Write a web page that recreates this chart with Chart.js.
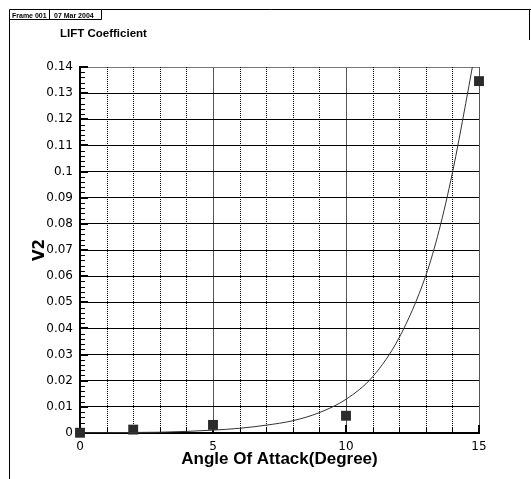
<!DOCTYPE html>
<html lang="en">
<head>
  <meta charset="UTF-8">
  <title>LIFT Coefficient</title>
  <script src="https://cdn.jsdelivr.net/npm/chart.js"></script>
  <style>
    html, body {
      margin: 0;
      padding: 0;
      background: #ffffff;
    }

    #wrap {
      width: 531px;
      height: 479px;
    }
  </style>
</head>
<body>
  <div id="wrap"><canvas id="chart" width="531" height="479"></canvas></div>

  <script>
    // measured points (square markers)
    const angles = [0, 2, 5, 10, 15];
    const liftValues = [0.0001, 0.0013, 0.0031, 0.0066, 0.1346];

    // fitted curve
    const fitAngles = [0, 1, 2, 3, 4, 5, 6, 7, 8, 9, 10, 11, 12, 13, 13.5, 14, 14.5, 14.75];
    const fitValues = [0.00005, 0.0001, 0.0002, 0.0003, 0.0006, 0.0011, 0.0018, 0.003, 0.0047, 0.0078,
                       0.0129, 0.0215, 0.0365, 0.0602, 0.0775, 0.0995, 0.126, 0.14];

    const xTickLabels = ['0', '5', '10', '15'];
    const yTickLabels = ['0', '0.01', '0.02', '0.03', '0.04', '0.05', '0.06', '0.07',
                         '0.08', '0.09', '0.1', '0.11', '0.12', '0.13', '0.14'];

    const frame = {
      id: 'frame',
      beforeDraw(chart) {
        const ctx = chart.ctx;
        ctx.save();
        ctx.fillStyle = '#fff';
        ctx.fillRect(0, 0, chart.width, chart.height);
        ctx.restore();
      },
      beforeDatasetsDraw(chart) {
        const ctx = chart.ctx;
        const xs = chart.scales.x, ys = chart.scales.y;
        const area = chart.chartArea;
        ctx.save();
        // dotted minor verticals
        ctx.strokeStyle = '#000';
        ctx.lineWidth = 1;
        ctx.setLineDash([1, 1]);
        for (let v = 1; v < 15; v++) {
          if (v % 5 === 0) continue;
          const px = Math.round(xs.getPixelForValue(v)) + 0.5;
          ctx.beginPath();
          ctx.moveTo(px, area.top);
          ctx.lineTo(px, area.bottom);
          ctx.stroke();
        }
        ctx.setLineDash([]);
        // inward ticks on the y axis
        for (let i = 0; i <= 70; i++) {
          const v = i * 0.002;
          const py = ys.getPixelForValue(v);
          const major = i % 5 === 0;
          ctx.lineWidth = major ? 2 : 1;
          ctx.beginPath();
          ctx.moveTo(area.left, Math.round(py) + (major ? 0 : 0.5));
          ctx.lineTo(area.left + (major ? 8 : 5), Math.round(py) + (major ? 0 : 0.5));
          ctx.stroke();
        }
        // inward ticks on the x axis
        for (let v = 0; v <= 15; v++) {
          const px = xs.getPixelForValue(v);
          const major = v % 5 === 0;
          ctx.lineWidth = major ? 2 : 1;
          ctx.beginPath();
          ctx.moveTo(Math.round(px) + (major ? 0 : 0.5), area.bottom);
          ctx.lineTo(Math.round(px) + (major ? 0 : 0.5), area.bottom - (major ? 8 : 5));
          ctx.stroke();
        }
        ctx.restore();
      },
      afterDraw(chart) {
        const ctx = chart.ctx;
        ctx.save();
        ctx.strokeStyle = '#000';
        ctx.lineWidth = 1;
        ctx.beginPath();
        // outer frame
        ctx.moveTo(9.5, 479);
        ctx.lineTo(9.5, 9.5);
        ctx.lineTo(531, 9.5);
        ctx.moveTo(529.5, 9.5);
        ctx.lineTo(529.5, 40);
        // header box
        ctx.moveTo(9.5, 19.5);
        ctx.lineTo(101.5, 19.5);
        ctx.moveTo(49.5, 9.5);
        ctx.lineTo(49.5, 19.5);
        ctx.moveTo(101.5, 9.5);
        ctx.lineTo(101.5, 19.5);
        ctx.stroke();

        ctx.fillStyle = '#000';
        ctx.textBaseline = 'alphabetic';
        ctx.font = 'bold 7px "Liberation Sans"';
        ctx.fillText('Frame 001', 12, 17.5);
        ctx.fillText('07 Mar 2004', 54, 17.5);

        ctx.font = 'bold 11.5px "Liberation Sans"';
        ctx.fillText('LIFT Coefficient', 60, 36.5);
        ctx.restore();
      }
    };

    const ctx = document.getElementById('chart').getContext('2d');
    new Chart(ctx, {
      type: 'scatter',
      data: {
        datasets: [
          {
            label: 'fit',
            data: fitAngles.map((a, i) => ({ x: a, y: fitValues[i] })),
            showLine: true,
            borderColor: '#333',
            borderWidth: 1,
            pointRadius: 0,
            cubicInterpolationMode: 'monotone'
          },
          {
            label: 'V2',
            data: angles.map((a, i) => ({ x: a, y: liftValues[i] })),
            showLine: false,
            clip: false,
            pointStyle: 'rect',
            pointRadius: 7,
            backgroundColor: '#2b2b2b',
            borderColor: '#2b2b2b',
            borderWidth: 0
          }
        ]
      },
      options: {
        responsive: false,
        animation: false,
        devicePixelRatio: 1,
        layout: {
          padding: { left: 10, right: 52, top: 67, bottom: 0 }
        },
        plugins: {
          legend: { display: false },
          tooltip: { enabled: false }
        },
        scales: {
          x: {
            type: 'linear',
            min: 0,
            max: 15,
            afterFit(scale) { scale.height = 46; },
            ticks: {
              stepSize: 5,
              padding: 7,
              color: '#000',
              font: { family: 'DejaVu Sans', size: 12 },
              callback: (v, i) => xTickLabels[i]
            },
            grid: {
              color: '#555',
              lineWidth: 1,
              drawTicks: false
            },
            border: { color: '#000', width: 2 },
            title: {
              display: true,
              text: 'Angle Of Attack(Degree)',
              color: '#000',
              font: { family: 'Liberation Sans', size: 17, weight: 'bold' },
              padding: { top: 0, bottom: 9 }
            }
          },
          y: {
            min: 0,
            max: 0.14,
            afterFit(scale) { scale.width = 70; },
            ticks: {
              stepSize: 0.01,
              padding: 7,
              color: '#000',
              font: { family: 'DejaVu Sans', size: 12 },
              callback: (v, i) => yTickLabels[i]
            },
            grid: {
              color: (c) => (c.index === yTickLabels.length - 1 ? '#777' : '#000'),
              lineWidth: 1,
              drawTicks: false
            },
            border: { color: '#000', width: 2 },
            title: {
              display: true,
              text: 'V2',
              color: '#000',
              font: { family: 'DejaVu Sans', size: 15, weight: 'bold' },
              padding: { top: 21, bottom: 0 }
            }
          }
        }
      },
      plugins: [frame]
    });
  </script>
</body>
</html>
